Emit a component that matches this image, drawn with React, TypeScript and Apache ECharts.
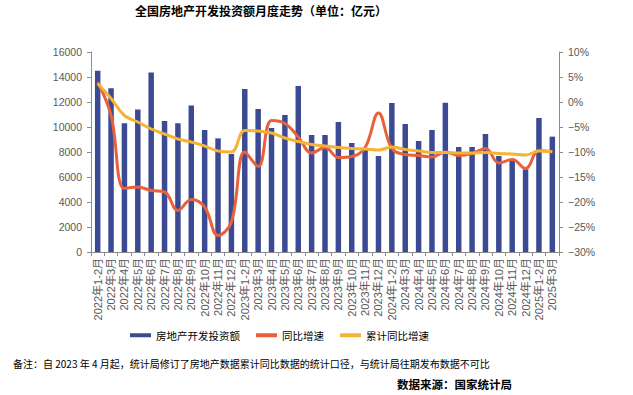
import React, { useEffect, useRef } from "react";
import * as echarts from "echarts";

const categories = [
  "2022年1-2月", "2022年3月", "2022年4月", "2022年5月", "2022年6月", "2022年7月", "2022年8月", "2022年9月", "2022年10月", "2022年11月", "2022年12月",
  "2023年1-2月", "2023年3月", "2023年4月", "2023年5月", "2023年6月", "2023年7月", "2023年8月", "2023年9月", "2023年10月", "2023年11月", "2023年12月",
  "2024年1-2月", "2024年3月", "2024年4月", "2024年5月", "2024年6月", "2024年7月", "2024年8月", "2024年9月", "2024年10月", "2024年11月", "2024年12月",
  "2025年1-2月", "2025年3月",
];

const investment = [
  14500, 13100, 10300, 11400, 14370, 10480, 10300, 11730, 9760, 9090, 7840,
  13040, 11440, 9920, 10960, 13280, 9360, 9360, 10400, 8720, 8290, 7680,
  11920, 10240, 8880, 9760, 11950, 8400, 8400, 9440, 7680, 7360, 6610,
  10720, 9230,
];

const monthlyYoY = [
  4.0, -2.7, -17.3, -17.0, -17.7, -18.0, -21.7, -19.5, -21.0, -26.7, -24.0,
  -10.0, -12.9, -3.7, -4.3, -7.0, -10.2, -9.1, -11.1, -10.9, -9.1, -2.2,
  -9.3, -10.5, -10.7, -11.0, -10.0, -10.7, -10.3, -9.3, -12.2, -11.5, -13.3,
  -9.7, -10.0,
];

const cumulativeYoY = [
  3.7, 0.7, -2.7, -4.0, -5.4, -6.4, -7.4, -8.0, -8.8, -9.8, -10.0,
  -5.7, -5.8, -6.2, -7.2, -7.9, -8.5, -8.8, -9.1, -9.3, -9.4, -9.6,
  -9.0, -9.5, -9.8, -10.1, -10.1, -10.2, -10.2, -10.1, -10.3, -10.4, -10.6,
  -9.8, -9.9,
];

const leftTicks = { min: 0, max: 16000, interval: 2000 };
const rightTicks = { min: -30, max: 10, interval: 5 };

const seriesNames = ["房地产开发投资额", "同比增速", "累计同比增速"];
const titleText = "全国房地产开发投资额月度走势（单位：亿元）";
const noteText = "备注：自 2023 年 4 月起，统计局修订了房地产数据累计同比数据的统计口径，与统计局往期发布数据不可比";
const sourceText = "数据来源：国家统计局";

const BLUE = "#3B4A93";
const RED = "#E8613B";
const YELLOW = "#F4B335";
const AXIS = "#8C8C8C";
const LABEL = "#595959";
const FONT = "'Liberation Sans', 'Noto Sans CJK SC', sans-serif";
const CJK = "'Noto Sans CJK SC', sans-serif";

export default function App() {
  const ref = useRef<HTMLDivElement>(null);
  useEffect(() => {
    if (!ref.current) return;
    const chart = echarts.init(ref.current, undefined, { renderer: "svg" });
    chart.setOption({
      animation: false,
      backgroundColor: "#ffffff",
      grid: { left: 91, right: 74, top: 52, bottom: 143, containLabel: false },
      legend: {
        left: 125,
        top: 325,
        itemWidth: 21,
        itemHeight: 4,
        itemGap: 16,
        textStyle: { fontSize: 10.5, color: "#000", fontFamily: CJK },
        data: seriesNames.map((n) => ({ name: n, icon: "rect" })),
      },
      xAxis: {
        type: "category",
        data: categories,
        boundaryGap: true,
        axisLine: { lineStyle: { color: AXIS, width: 1 } },
        axisTick: { show: true, alignWithLabel: false, length: 4, lineStyle: { color: AXIS } },
        axisLabel: {
          rotate: 90,
          interval: 0,
          fontSize: 11,
          color: LABEL,
          fontFamily: FONT,
          margin: 6,
        },
      },
      yAxis: [
        {
          type: "value",
          ...leftTicks,
          splitLine: { show: false },
          axisLine: { show: true, lineStyle: { color: AXIS } },
          axisTick: { show: true, length: 4, lineStyle: { color: AXIS } },
          axisLabel: {
            fontSize: 10.5,
            color: LABEL,
            fontFamily: FONT,
            margin: 9,
            formatter: (v: number) => String(v),
          },
        },
        {
          type: "value",
          ...rightTicks,
          splitLine: { show: false },
          axisLine: { show: true, lineStyle: { color: AXIS } },
          axisTick: { show: true, length: 4, lineStyle: { color: AXIS } },
          axisLabel: {
            fontSize: 10.5,
            color: LABEL,
            fontFamily: FONT,
            margin: 9,
            formatter: (v: number) => (v < 0 ? "−" + Math.abs(v) : String(v)) + "%",
          },
        },
      ],
      series: [
        {
          name: seriesNames[0],
          type: "bar",
          data: investment,
          barWidth: "41%",
          itemStyle: { color: BLUE },
          yAxisIndex: 0,
        },
        {
          name: seriesNames[1],
          type: "line",
          data: monthlyYoY,
          yAxisIndex: 1,
          smooth: 0.4,
          symbol: "none",
          lineStyle: { color: RED, width: 3 },
          itemStyle: { color: RED },
        },
        {
          name: seriesNames[2],
          type: "line",
          data: cumulativeYoY,
          yAxisIndex: 1,
          smooth: 0.4,
          symbol: "none",
          lineStyle: { color: YELLOW, width: 3 },
          itemStyle: { color: YELLOW },
        },
      ],
      graphic: [
        {
          type: "text",
          x: 261,
          y: 10,
          style: {
            text: titleText,
            textAlign: "center",
            textVerticalAlign: "middle",
            fontSize: 12,
            fontWeight: "bold",
            fontFamily: CJK,
            fill: "#000",
          },
        },
        {
          type: "text",
          x: 13,
          y: 363,
          style: {
            text: noteText,
            textAlign: "left",
            textVerticalAlign: "middle",
            fontSize: 10,
            fontFamily: CJK,
            fill: "#000",
          },
        },
        {
          type: "text",
          x: 512,
          y: 384,
          style: {
            text: sourceText,
            textAlign: "right",
            textVerticalAlign: "middle",
            fontSize: 11.5,
            fontWeight: "bold",
            fontFamily: CJK,
            fill: "#000",
          },
        },
      ],
    });
    return () => chart.dispose();
  }, []);
  return <div ref={ref} style={{ width: 633, height: 395, position: "absolute", left: 0, top: 0 }} />;
}
